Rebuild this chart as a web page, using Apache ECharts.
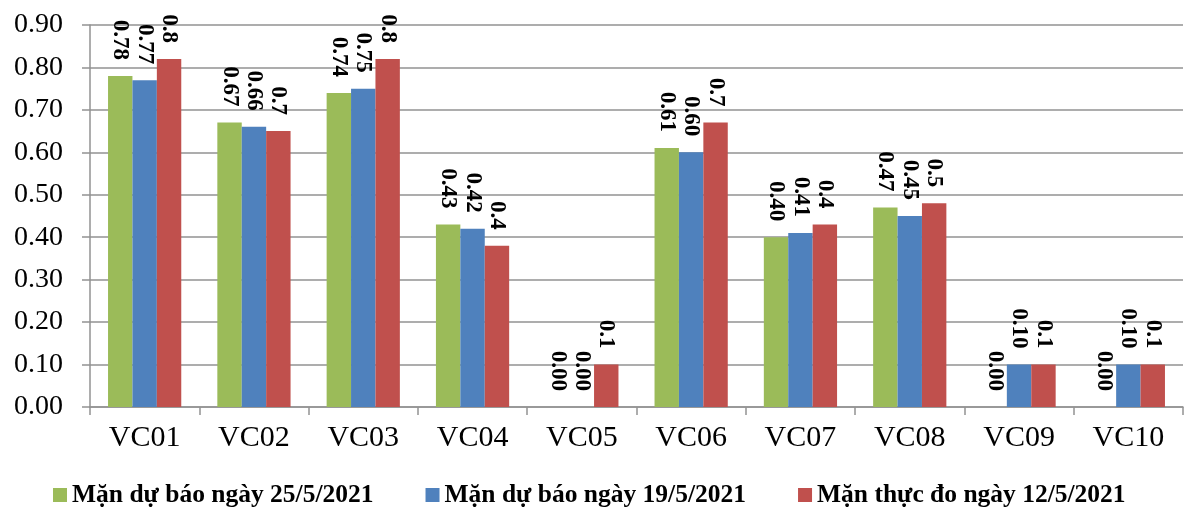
<!DOCTYPE html>
<html>
<head>
<meta charset="utf-8">
<script src="https://cdn.jsdelivr.net/npm/echarts@6/dist/echarts.min.js"></script>
<style>
  html, body { margin: 0; padding: 0; background: #fff; }
  #main { width: 1197px; height: 508px; }
</style>
</head>
<body>
<div id="main"></div>
<script>
// trạm đo mặn
var categories = ["VC01", "VC02", "VC03", "VC04", "VC05", "VC06", "VC07", "VC08", "VC09", "VC10"];

// dự báo 25/5
var duBao25 = [0.78, 0.67, 0.74, 0.43, 0.00, 0.61, 0.40, 0.47, 0.00, 0.00];
// dự báo 19/5
var duBao19 = [0.77, 0.66, 0.75, 0.42, 0.00, 0.60, 0.41, 0.45, 0.10, 0.10];
// thực đo 12/5
var thucDo12 = [0.82, 0.65, 0.82, 0.38, 0.10, 0.67, 0.43, 0.48, 0.10, 0.10];

var seriesNames = ["Mặn dự báo ngày 25/5/2021", "Mặn dự báo ngày 19/5/2021", "Mặn thực đo ngày 12/5/2021"];
var seriesColors = ["#9BBB59", "#4F81BD", "#C0504D"];
var labelDecimals = [2, 2, 1];

var font = "Liberation Serif";
var gridColor = "#929292";

var myChart = echarts.init(document.getElementById("main"));

function makeSeries(i, data) {
    return {
        name: seriesNames[i],
        type: "bar",
        data: data,
        barGap: "0%",
        barCategoryGap: "33%",
        itemStyle: { color: seriesColors[i] },
        label: {
            show: true,
            position: "top",
            distance: 16,
            rotate: -90,
            align: "right",
            verticalAlign: "middle",
            fontFamily: font,
            fontWeight: "bold",
            fontSize: 23,
            color: "#000",
            formatter: function (p) {
                return p.value.toFixed(labelDecimals[i]);
            }
        }
    };
}

var option = {
    animation: false,
    grid: { left: 90, right: 14, top: 25, bottom: 101 },
    legend: {
        left: 48,
        top: 477,
        itemWidth: 14,
        itemHeight: 14,
        itemGap: 52,
        icon: "rect",
        textStyle: { fontFamily: font, fontWeight: "bold", fontSize: 25.5, color: "#000" },
        data: seriesNames
    },
    xAxis: {
        type: "category",
        data: categories,
        axisLine: { lineStyle: { color: gridColor, width: 1.5 } },
        axisTick: { show: true, length: 8, lineStyle: { color: gridColor, width: 1.5 } },
        axisLabel: { fontFamily: font, fontSize: 30, color: "#000", margin: 16 }
    },
    yAxis: {
        type: "value",
        min: 0,
        max: 0.9,
        interval: 0.1,
        axisLine: { show: true, lineStyle: { color: gridColor, width: 1.5 } },
        axisTick: { show: true, length: 8, lineStyle: { color: gridColor, width: 1.5 } },
        splitLine: { lineStyle: { color: gridColor, width: 1.5 } },
        axisLabel: {
            fontFamily: font,
            fontSize: 28,
            color: "#000",
            margin: 27,
            formatter: function (v) {
                return v.toFixed(2);
            }
        }
    },
    series: [
        makeSeries(0, duBao25),
        makeSeries(1, duBao19),
        makeSeries(2, thucDo12)
    ]
};

myChart.setOption(option);
</script>
</body>
</html>
